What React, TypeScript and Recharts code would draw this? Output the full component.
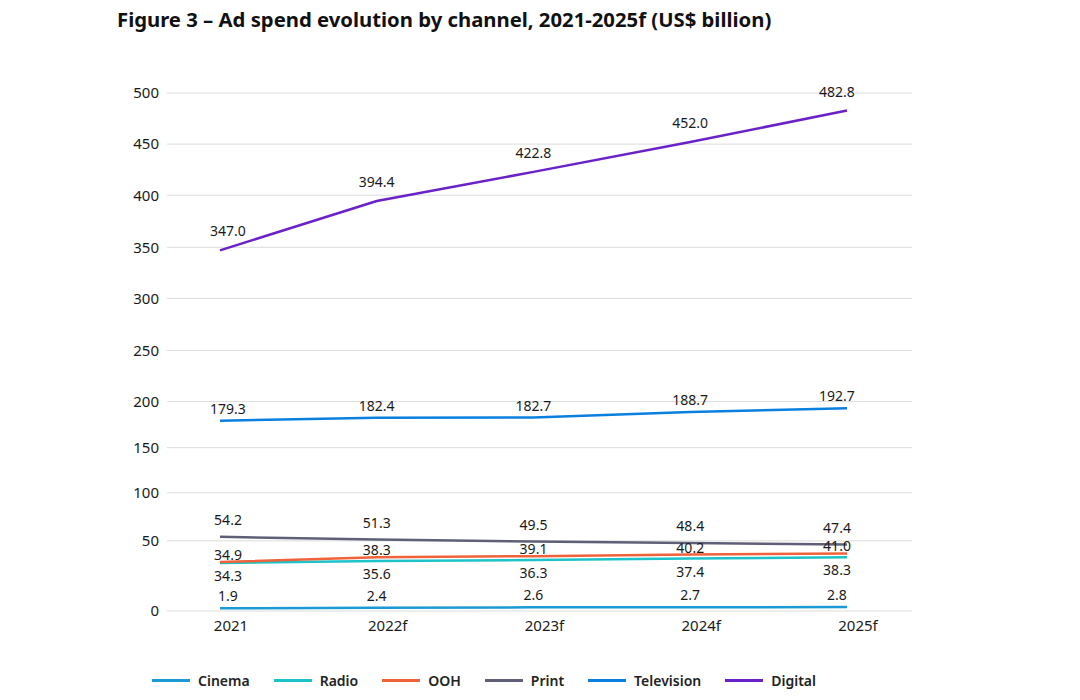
import React from "react";
import {
  LineChart,
  Line,
  XAxis,
  YAxis,
  CartesianGrid,
  Legend,
  LabelList,
} from "recharts";

const years = ["2021", "2022f", "2023f", "2024f", "2025f"];
const cinema = [1.9, 2.4, 2.6, 2.7, 2.8];
const radio = [34.3, 35.6, 36.3, 37.4, 38.3];
const ooh = [34.9, 38.3, 39.1, 40.2, 41.0];
const print = [54.2, 51.3, 49.5, 48.4, 47.4];
const television = [179.3, 182.4, 182.7, 188.7, 192.7];
const digital = [347.0, 394.4, 422.8, 452.0, 482.8];
const yTicks = [0, 50, 100, 150, 200, 250, 300, 350, 400, 450, 500];

const data = years.map((year, i) => ({
  year,
  Cinema: cinema[i],
  Radio: radio[i],
  OOH: ooh[i],
  Print: print[i],
  Television: television[i],
  Digital: digital[i],
}));

const series = [
  { key: "Cinema", color: "#1b9ad6", below: false, lift: 7 },
  { key: "Radio", color: "#1cc3c9", below: true, lift: 0 },
  { key: "OOH", color: "#f0633a", below: false, lift: 2 },
  { key: "Print", color: "#5f6078", below: false, lift: 12 },
  { key: "Television", color: "#0b7fdf", below: false, lift: 7 },
  { key: "Digital", color: "#6a22c8", below: false, lift: 14 },
];

// the source axis is not evenly spaced: share of the axis height at each tick
const tickStops = [0, 70, 118, 163, 209, 260, 312, 363, 415, 466, 517].map((v) => v / 517);

function piecewiseScale(dom: number[] = [0, 500], rng: number[] = [0, 1]) {
  const scale: any = (v: number) => {
    let i = 0;
    while (i < yTicks.length - 2 && v > yTicks[i + 1]) i++;
    const t = (v - yTicks[i]) / (yTicks[i + 1] - yTicks[i]);
    const f = tickStops[i] + t * (tickStops[i + 1] - tickStops[i]);
    return rng[0] + f * (rng[1] - rng[0]);
  };
  scale.domain = (d?: number[]) => {
    if (d === undefined) return dom;
    dom = d;
    return scale;
  };
  scale.range = (r?: number[]) => {
    if (r === undefined) return rng;
    rng = r;
    return scale;
  };
  scale.copy = () => piecewiseScale(dom.slice(), rng.slice());
  scale.ticks = () => yTicks;
  return scale;
}

const FONT = "'Noto Sans', sans-serif";
const labelShift = [8, 0, 0, 0, -10];

function valueLabel(below: boolean, lift: number) {
  return (props: any) => {
    const { x, y, value, index } = props;
    return (
      <text
        x={x + labelShift[index]}
        y={below ? y + 18 : y - lift}
        textAnchor="middle"
        fontSize={14}
        fontFamily={FONT}
        fill="#1a1a1a"
      >
        {Number(value).toFixed(1)}
      </text>
    );
  };
}

function XTick(props: any) {
  const { x, y, payload } = props;
  return (
    <text x={x + 11} y={y + 12} textAnchor="middle" fontSize={15} fontFamily={FONT} fill="#1a1a1a">
      {payload.value}
    </text>
  );
}

function LegendRow(props: any) {
  const order = series.map((s) => s.key);
  const payload = [...props.payload].sort(
    (a: any, b: any) => order.indexOf(a.value) - order.indexOf(b.value)
  );
  return (
    <div style={{ display: "flex", alignItems: "center", fontFamily: FONT }}>
      {payload.map((entry: any) => (
        <div key={entry.value} style={{ display: "flex", alignItems: "center", marginRight: 24 }}>
          <div style={{ width: 38, height: 3, background: entry.color, marginRight: 8 }} />
          <span style={{ fontSize: 14, fontWeight: 600, color: "#222" }}>{entry.value}</span>
        </div>
      ))}
    </div>
  );
}

export default function App() {
  return (
    <div style={{ position: "relative", margin: -8, width: 1080, height: 700, background: "#fff" }}>
      <div
        style={{
          position: "absolute",
          left: 117,
          top: 5,
          fontFamily: FONT,
          fontWeight: 700,
          fontSize: 20.3,
          color: "#111",
          zIndex: 2,
        }}
      >
        Figure 3 – Ad spend evolution by channel, 2021-2025f (US$ billion)
      </div>
      <LineChart
        width={1080}
        height={700}
        data={data}
        margin={{ top: 93, right: 168, bottom: 40, left: 100 }}
      >
        <CartesianGrid vertical={false} stroke="#dcdcdc" />
        <XAxis
          dataKey="year"
          axisLine={false}
          tickLine={false}
          height={30}
          padding={{ left: 53, right: 65 }}
          tick={<XTick />}
        />
        <YAxis
          width={67}
          domain={[0, 500]}
          ticks={yTicks}
          scale={piecewiseScale()}
          axisLine={false}
          tickLine={false}
          tick={{ fontSize: 15, fontFamily: FONT, fill: "#1a1a1a" }}
        />
        <Legend
          verticalAlign="bottom"
          content={<LegendRow />}
          wrapperStyle={{ left: 152, bottom: 10, width: "auto" }}
        />
        {series.map((s) => (
          <Line
            key={s.key}
            type="linear"
            dataKey={s.key}
            stroke={s.color}
            strokeWidth={2.5}
            dot={false}
            isAnimationActive={false}
          >
            <LabelList dataKey={s.key} content={valueLabel(s.below, s.lift)} />
          </Line>
        ))}
      </LineChart>
    </div>
  );
}
